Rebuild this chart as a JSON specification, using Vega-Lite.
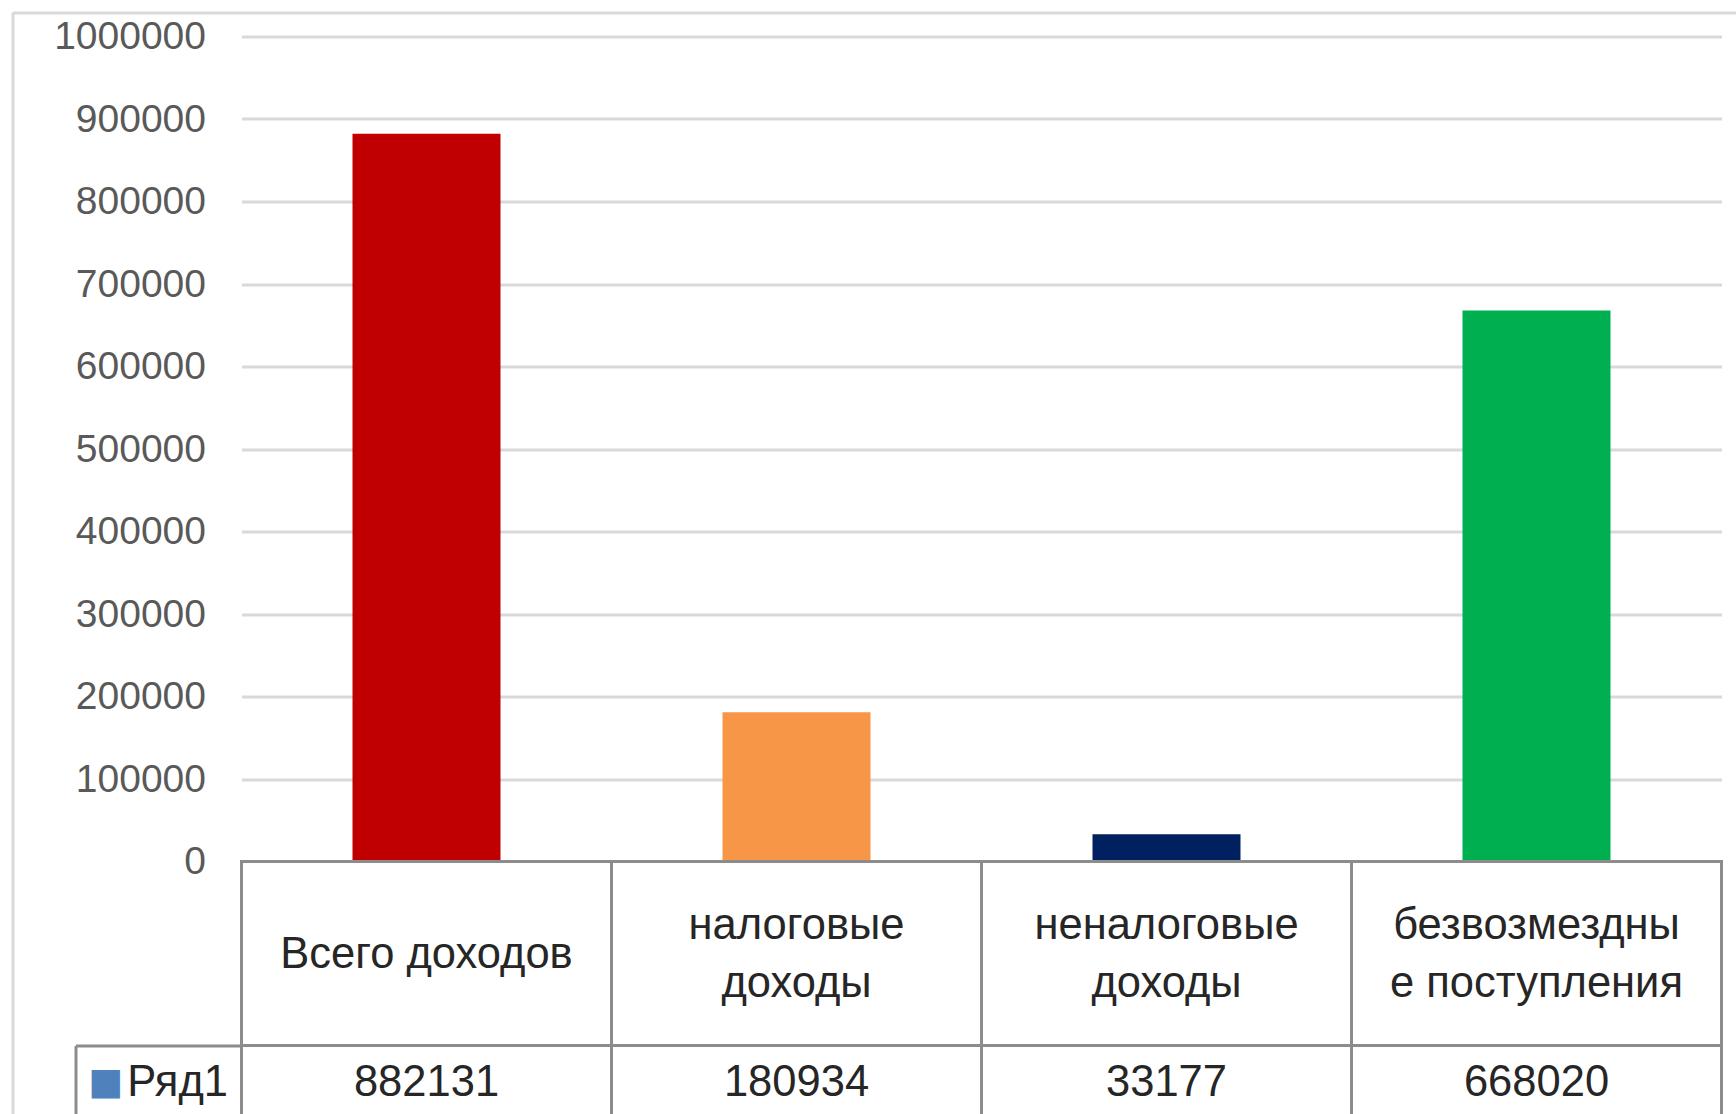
{
  "$schema": "https://vega.github.io/schema/vega-lite/v6.json",
  "background": "white",
  "padding": {"left": 10.5, "top": 10.5, "right": 0, "bottom": 0},
  "spacing": 0,
  "bounds": "flush",
  "datasets": {
    "d": [
      {"cat": "Всего доходов", "label": "Всего доходов", "value": 882131, "series": "Ряд1"},
      {"cat": "налоговые доходы", "label": "налоговые|доходы", "value": 180934, "series": "Ряд1"},
      {"cat": "неналоговые доходы", "label": "неналоговые|доходы", "value": 33177, "series": "Ряд1"},
      {"cat": "безвозмездные поступления", "label": "безвозмездны|е поступления", "value": 668020, "series": "Ряд1"}
    ]
  },
  "vconcat": [
    {
      "width": 1480,
      "height": 825,
      "data": {"name": "d"},
      "resolve": {"axis": {"x": "independent", "y": "independent"}},
      "layer": [
        {
          "mark": {"type": "bar", "width": {"band": 0.4}},
          "encoding": {
            "x": {"field": "cat", "type": "nominal", "sort": null, "scale": {"paddingInner": 0, "paddingOuter": 0}, "axis": null},
            "y": {
              "field": "value", "type": "quantitative",
              "scale": {"domain": [0, 1000000], "nice": false},
              "axis": {
                "values": [0, 100000, 200000, 300000, 400000, 500000, 600000, 700000, 800000, 900000, 1000000],
                "format": "d", "title": null, "domain": false, "ticks": false,
                "grid": true, "gridColor": "#D9D9D9", "gridWidth": 3,
                "labelFontSize": 39, "labelColor": "#595959", "labelPadding": 36
              }
            },
            "color": {
              "field": "cat", "type": "nominal", "sort": null,
              "scale": {"domain": ["Всего доходов", "налоговые доходы", "неналоговые доходы", "безвозмездные поступления"], "range": ["#C00000", "#F79646", "#002060", "#00B050"]},
              "legend": null
            }
          }
        },
        {
          "mark": {"type": "point", "opacity": 0},
          "encoding": {
            "x": {
              "field": "cat", "type": "nominal", "sort": null,
              "axis": {
                "orient": "top", "offset": 24.5, "domain": false, "labels": false, "grid": false, "title": null,
                "values": ["Всего доходов"], "bandPosition": 0, "tickOffset": -229,
                "ticks": true, "tickSize": -1110, "tickColor": "#D9D9D9", "tickWidth": 3
              }
            },
            "y": {
              "field": "value", "type": "quantitative",
              "axis": {
                "orient": "left", "offset": 229, "domain": false, "labels": false, "grid": false, "title": null,
                "values": [1000000], "tickOffset": -24.5,
                "ticks": true, "tickSize": -1730, "tickColor": "#D9D9D9", "tickWidth": 3
              }
            }
          }
        }
      ]
    },
    {
      "width": 1480,
      "height": 184,
      "data": {"name": "d"},
      "encoding": {
        "x": {"field": "cat", "type": "nominal", "sort": null, "scale": {"paddingInner": 0, "paddingOuter": 0}, "axis": null}
      },
      "layer": [
        {"mark": {"type": "rect", "fill": "white", "stroke": "#8C8C8C", "strokeWidth": 3}},
        {
          "transform": [{"filter": "indexof(datum.label, '|') < 0"}],
          "mark": {"type": "text", "fontSize": 43.5, "color": "#262626", "baseline": "middle", "dy": 1},
          "encoding": {"text": {"field": "label"}}
        },
        {
          "transform": [{"filter": "indexof(datum.label, '|') >= 0"}],
          "mark": {"type": "text", "fontSize": 43.5, "lineBreak": "|", "lineHeight": 58, "color": "#262626", "baseline": "middle", "dy": -28},
          "encoding": {"text": {"field": "label"}}
        }
      ]
    },
    {
      "width": 1480,
      "height": 74,
      "data": {"name": "d"},
      "encoding": {
        "x": {"field": "cat", "type": "nominal", "sort": null, "scale": {"paddingInner": 0, "paddingOuter": 0}, "axis": null},
        "y": {
          "field": "series", "type": "nominal",
          "scale": {"paddingInner": 0, "paddingOuter": 0},
          "axis": {
            "offset": 166, "domain": true, "domainColor": "#8C8C8C", "domainWidth": 3,
            "ticks": true, "tickBand": "extent", "tickSize": -166, "tickColor": "#8C8C8C", "tickWidth": 3,
            "labelFontSize": 43.5, "labelColor": "#262626", "labelPadding": 14,
            "title": "■", "titleColor": "#4F81BD", "titleFont": "DejaVu Sans", "titleFontSize": 37, "titleFontWeight": "normal",
            "titleAngle": 0, "titleAlign": "center", "titleBaseline": "middle", "titleX": 30, "titleY": 37
          }
        }
      },
      "layer": [
        {"mark": {"type": "rect", "fill": "white", "stroke": "#8C8C8C", "strokeWidth": 3}},
        {"mark": {"type": "text", "fontSize": 43.5, "color": "#262626", "baseline": "middle"}, "encoding": {"text": {"field": "value", "type": "quantitative", "format": "d"}}}
      ]
    }
  ],
  "config": {
    "view": {"stroke": null},
    "font": "Liberation Sans"
  }
}
